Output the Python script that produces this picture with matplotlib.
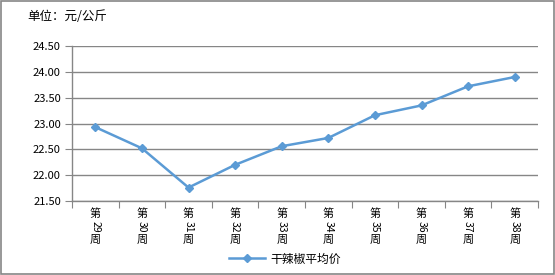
import matplotlib.pyplot as plt
from matplotlib.lines import Line2D
from matplotlib.patches import Rectangle

plt.rcParams['font.family'] = ['Noto Sans CJK SC', 'DejaVu Sans']

weeks = ['29', '30', '31', '32', '33', '34', '35', '36', '37', '38']
prices = [22.93, 22.52, 21.76, 22.20, 22.56, 22.72, 23.16, 23.35, 23.72, 23.90]
yticks = [21.5, 22.0, 22.5, 23.0, 23.5, 24.0, 24.5]

grey = '#868686'
blue = '#5B9BD5'

fig = plt.figure(figsize=(5.55, 2.75), dpi=100)
ax = fig.add_axes([72/555, 1 - 201/275, 466/555, 155/275])

x = list(range(len(weeks)))
ax.plot(x, prices, color=blue, lw=1.8, marker='D', ms=4.5, label='干辣椒平均价')

ax.set_xlim(-0.5, len(weeks) - 0.5)
ax.set_ylim(21.5, 24.5)
ax.set_yticks(yticks)
ax.set_yticklabels(['%.2f' % v for v in yticks], fontsize=8)
ax.yaxis.grid(True, color=grey, lw=1)
ax.set_axisbelow(True)

# ticks between categories
ax.set_xticks([i - 0.5 for i in range(len(weeks) + 1)])
ax.set_xticklabels([])
ax.tick_params(axis='x', length=5, color=grey)
ax.tick_params(axis='y', length=5, color=grey, pad=3)

for s in ['top', 'right']:
    ax.spines[s].set_visible(False)
for s in ['left', 'bottom']:
    ax.spines[s].set_color(grey)
    ax.spines[s].set_linewidth(1)

# vertical category labels: CJK upright, digits rotated
tr = ax.get_xaxis_transform()
for i, w in enumerate(weeks):
    ax.annotate('第', (i, 0), xycoords=tr, xytext=(0, -9), textcoords='offset points',
                ha='center', va='center', fontsize=8)
    ax.annotate(w, (i, 0), xycoords=tr, xytext=(0, -18.5), textcoords='offset points',
                ha='center', va='center', fontsize=7.5, rotation=-90)
    ax.annotate('周', (i, 0), xycoords=tr, xytext=(0, -28), textcoords='offset points',
                ha='center', va='center', fontsize=8)

handle = Line2D([], [], color=blue, lw=1.8, marker='D', ms=4.5)
fig.legend([handle], ['干辣椒平均价'], loc='center', bbox_to_anchor=(285/555, 1 - 259/275),
           frameon=False, fontsize=8.5, handlelength=3, handletextpad=0.5,
           borderpad=0, borderaxespad=0)

fig.text(27/555, 1 - 17/275, '单位：元/公斤', fontsize=9, va='center', ha='left')

fig.patches.append(Rectangle((0.001, 0.002), 0.997, 0.995, transform=fig.transFigure,
                             fill=False, edgecolor=grey, lw=1.2))

fig.savefig('out.png', dpi=100)
